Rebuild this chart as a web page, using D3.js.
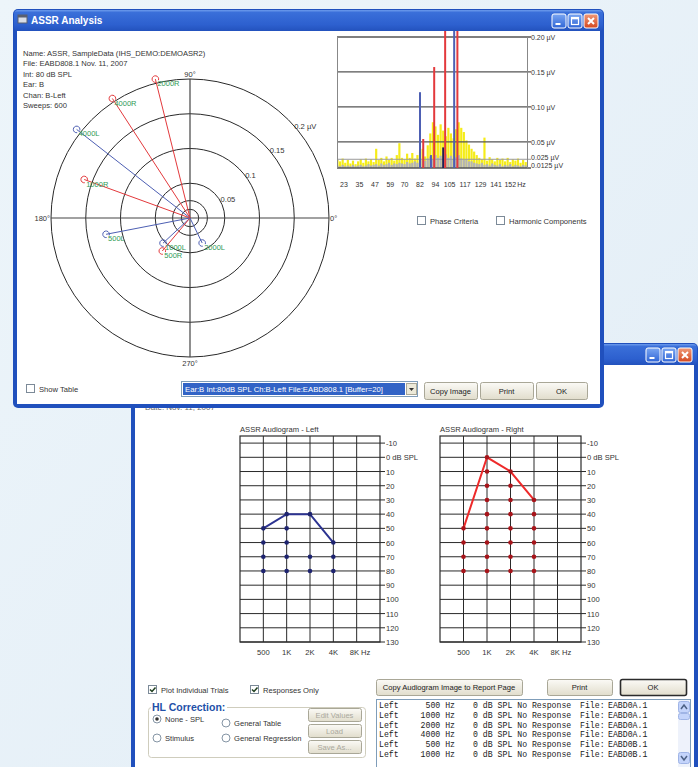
<!DOCTYPE html>
<html>
<head>
<meta charset="utf-8">
<script src="https://cdn.jsdelivr.net/npm/d3@7"></script>
<style>
  body { margin: 0; background: #e8f1f8; }
  svg text { font-family: "Liberation Sans", Arial, sans-serif; }
</style>
</head>
<body>
<div id="chart"></div>
<script>
'use strict';

// ---- ASSR Analysis window: header info ----
const infoLines = ['Name: ASSR, SampleData (IHS_DEMO:DEMOASR2)', 'File: EABD808.1 Nov. 11, 2007',
    'Int: 80 dB SPL', 'Ear: B', 'Chan: B-Left', 'Sweeps: 600'];

// ---- polar plot (amplitude in uV, phase in degrees) ----
const ringValues = [0.0125, 0.025, 0.05, 0.1, 0.15, 0.2];
const ringLabels = ['', '', '0.05', '0.1', '0.15', '0.2 \u00b5V'];
const vecLabels = ['2000R', '4000R', '4000L', '1000R', '500L', '1000L', '500R', '2000L'];
const vecAmp = [0.206, 0.205, 0.207, 0.162, 0.123, 0.053, 0.062, 0.040];
const vecPhase = [104, 123, 142, 160, 191, 223, 230, 296];
const vecEar = ['R', 'R', 'L', 'R', 'L', 'L', 'R', 'L'];

// ---- spectrum ----
const specFreqs = [18, 20, 22, 24, 26, 28, 30, 32, 34, 36,
    38, 40, 42, 44, 46, 48, 50, 52, 54, 56,
    58, 60, 62, 64, 66, 68, 70, 72, 74, 76,
    78, 80, 82, 84, 86, 88, 90, 92, 94, 96,
    98, 100, 102, 104, 106, 108, 110, 112, 114, 116,
    118, 120, 122, 124, 126, 128, 130, 132, 134, 136,
    138, 140, 142, 144, 146, 148, 150, 152, 154, 156,
    158, 160, 162, 164];
const specSignal = [0.024, 0.022, 0.026, 0.020, 0.024, 0.019, 0.023, 0.018, 0.022, 0.025,
    0.020, 0.026, 0.022, 0.025, 0.021, 0.040, 0.024, 0.027, 0.022, 0.029,
    0.024, 0.027, 0.023, 0.031, 0.048, 0.027, 0.025, 0.033, 0.027, 0.034,
    0.026, 0.031, 0.036, 0.040, 0.029, 0.045, 0.062, 0.078, 0.072, 0.060,
    0.075, 0.066, 0.058, 0.070, 0.062, 0.055, 0.068, 0.078, 0.070, 0.064,
    0.052, 0.046, 0.040, 0.036, 0.031, 0.027, 0.025, 0.056, 0.023, 0.028,
    0.025, 0.022, 0.027, 0.024, 0.026, 0.022, 0.027, 0.021, 0.025, 0.023,
    0.026, 0.020, 0.024, 0.021];
const specNoise = [0.016, 0.015, 0.017, 0.015, 0.016, 0.015, 0.017, 0.015, 0.016, 0.017,
    0.015, 0.016, 0.018, 0.016, 0.017, 0.018, 0.016, 0.019, 0.017, 0.018,
    0.020, 0.017, 0.019, 0.018, 0.020, 0.019, 0.018, 0.021, 0.019, 0.020,
    0.022, 0.020, 0.022, 0.024, 0.023, 0.026, 0.029, 0.025, 0.031, 0.027,
    0.030, 0.026, 0.032, 0.027, 0.030, 0.025, 0.028, 0.031, 0.026, 0.024,
    0.025, 0.022, 0.022, 0.020, 0.019, 0.018, 0.020, 0.017, 0.018, 0.016,
    0.019, 0.017, 0.016, 0.018, 0.015, 0.017, 0.016, 0.018, 0.015, 0.017,
    0.016, 0.015, 0.017, 0.016];
const peakFreqs = [82, 84.5, 90.5, 93, 100, 101.5, 108.5, 111];
const peakValues = [0.121, 0.054, 0.031, 0.157, 0.042, 0.30, 0.30, 0.30];
const peakEar = ['L', 'R', 'L', 'R', 'N', 'R', 'L', 'R'];
const specTicks = [0.2, 0.15, 0.1, 0.05, 0.025, 0.0125];
const specTickLabels = ['0.20 \u00b5V', '0.15 \u00b5V', '0.10 \u00b5V', '0.05 \u00b5V', '0.025 \u00b5V', '0.0125 \u00b5V'];
const specFreqTicks = [23, 35, 47, 59, 70, 82, 94, 105, 117, 129, 141, 152];

// ---- audiograms ----
const audioFreqs = [500, 1000, 2000, 4000];
const audioTickFreqs = [500, 1000, 2000, 4000, 8000];
const audioTickLabels = ['500', '1K', '2K', '4K', '8K Hz'];
const dbTicks = [-10, 0, 10, 20, 30, 40, 50, 60, 70, 80, 90, 100, 110, 120, 130];
const leftThreshold = [50, 40, 40, 60];
const rightThreshold = [50, 0, 10, 30];
const leftTrials = [[50, 60, 70, 80], [40, 50, 60, 70, 80], [40, 70, 80], [60, 70, 80]];
const rightTrials = [[50, 60, 70, 80], [0, 10, 20, 30, 40, 50, 60, 70, 80],
    [10, 20, 30, 40, 50, 60, 70, 80], [30, 40, 50, 60, 70, 80]];

// ---- results list ----
const resultEar = ['Left', 'Left', 'Left', 'Left', 'Left', 'Left'];
const resultFreq = [500, 1000, 2000, 4000, 500, 1000];
const resultFile = ['EABD0A.1', 'EABD0A.1', 'EABD0A.1', 'EABD0A.1', 'EABD0B.1', 'EABD0B.1'];

const W = 698, H = 767;
const FS = 7.6;   // small dialog font
const earColor = {R: '#e3393c', L: '#4d5fb3', N: '#1c2156'};

const svg = d3.select('#chart').append('svg')
    .attr('width', W).attr('height', H);
const defs = svg.append('defs');

function gradient(id, stops, vertical) {
    const g = defs.append('linearGradient').attr('id', id)
        .attr('x1', 0).attr('y1', 0).attr('x2', vertical ? 0 : 1).attr('y2', 1);
    stops.forEach(s => g.append('stop').attr('offset', s[0]).attr('stop-color', s[1]));
}
gradient('bg', [['0%', '#edf5fa'], ['100%', '#e2edf6']], false);
gradient('titlebar', [['0%', '#6d9cec'], ['12%', '#3a6fd9'], ['70%', '#2d60cf'], ['100%', '#2352bd']], true);
gradient('btn', [['0%', '#fbfaf6'], ['100%', '#e1ddcc']], true);
gradient('tbtn', [['0%', '#7aa6f2'], ['100%', '#2f65d6']], true);
gradient('tclose', [['0%', '#f09a78'], ['100%', '#d4471f']], true);

svg.append('rect').attr('width', W).attr('height', H).attr('fill', 'url(#bg)');

function drawWindow(x, y, w, h, clipId) {
    const g = svg.append('g');
    g.append('rect').attr('x', x).attr('y', y).attr('width', w).attr('height', h)
        .attr('rx', 5).attr('fill', '#2050bd');
    g.append('rect').attr('x', x + 1).attr('y', y + 1).attr('width', w - 2).attr('height', 21)
        .attr('rx', 4).attr('fill', 'url(#titlebar)');
    g.append('rect').attr('x', x + 4).attr('y', y + 22).attr('width', w - 8).attr('height', h - 26)
        .attr('fill', '#ffffff');
    defs.append('clipPath').attr('id', clipId).append('rect')
        .attr('x', x + 4).attr('y', y + 22).attr('width', w - 8).attr('height', h - 26);
    // title buttons
    const bx = x + w - 52;
    [0, 1, 2].forEach(i => {
        const b = g.append('g').attr('transform', `translate(${bx + i * 16},${y + 5})`);
        b.append('rect').attr('width', 14).attr('height', 14).attr('rx', 2)
            .attr('fill', i === 2 ? 'url(#tclose)' : 'url(#tbtn)').attr('stroke', '#ffffff').attr('stroke-width', 1);
        if (i === 0) {
            b.append('rect').attr('x', 3.5).attr('y', 9).attr('width', 5).attr('height', 2).attr('fill', '#fff');
        } else if (i === 1) {
            b.append('rect').attr('x', 3.5).attr('y', 3.5).attr('width', 7).attr('height', 7)
                .attr('fill', 'none').attr('stroke', '#fff').attr('stroke-width', 1.2);
            b.append('rect').attr('x', 3.5).attr('y', 3.5).attr('width', 7).attr('height', 1.8).attr('fill', '#fff');
        } else {
            b.append('path').attr('d', 'M4,4L10,10M10,4L4,10').attr('stroke', '#fff').attr('stroke-width', 2);
        }
    });
    return g.append('g').attr('clip-path', `url(#${clipId})`);
}

function button(g, x, y, w, h, label, opts) {
    opts = opts || {};
    g.append('rect').attr('x', x + 0.5).attr('y', y + 0.5).attr('width', w).attr('height', h)
        .attr('rx', 2).attr('fill', 'url(#btn)')
        .attr('stroke', opts.def ? '#2b2b2b' : '#a9a797').attr('stroke-width', opts.def ? 1.6 : 1);
    g.append('text').attr('x', x + w / 2).attr('y', y + h / 2 + 3.2)
        .attr('text-anchor', 'middle').attr('font-size', FS)
        .attr('fill', opts.disabled ? '#aaa89c' : '#222').text(label);
}

function checkbox(g, x, y, checked, label) {
    g.append('rect').attr('x', x + 0.5).attr('y', y + 0.5).attr('width', 8).attr('height', 8)
        .attr('fill', '#fff').attr('stroke', '#7c8a98');
    if (checked) {
        g.append('path').attr('d', `M${x + 2},${y + 4.5}L${x + 4},${y + 6.5}L${x + 7.5},${y + 2.5}`)
            .attr('fill', 'none').attr('stroke', '#1f3f1f').attr('stroke-width', 1.5);
    }
    g.append('text').attr('x', x + 13).attr('y', y + 7.5).attr('font-size', FS)
        .attr('fill', '#333').text(label);
}

function radio(g, x, y, selected, label) {
    g.append('circle').attr('cx', x).attr('cy', y).attr('r', 4)
        .attr('fill', '#fff').attr('stroke', '#8595a5');
    if (selected) g.append('circle').attr('cx', x).attr('cy', y).attr('r', 1.8).attr('fill', '#333');
    g.append('text').attr('x', x + 8).attr('y', y + 3).attr('font-size', FS)
        .attr('fill', '#333').text(label);
}

// =================== second window (audiogram), drawn underneath ===================
const w2 = drawWindow(131, 343, 567, 440, 'clip2');

w2.append('text').attr('x', 145).attr('y', 410).attr('font-size', 8).attr('fill', '#666')
    .text('Date: Nov. 11, 2007');

function drawAudiogram(g, x0, x1, title, threshold, trials, lineColor, dotColor) {
    const x = d3.scaleLog().base(2).domain([250, 16000]).range([x0, x1]);
    const y = d3.scaleLinear().domain([-15, 130]).range([436, 642]);
    g.append('text').attr('x', x0).attr('y', 432).attr('font-size', FS).attr('fill', '#333').text(title);
    g.append('g').selectAll('line').data(dbTicks).join('line')
        .attr('x1', x0).attr('x2', x1 + 5)
        .attr('y1', d => y(d)).attr('y2', d => y(d))
        .attr('stroke', '#2a2a2a').attr('stroke-width', 1);
    g.append('g').selectAll('line').data(audioTickFreqs).join('line')
        .attr('x1', d => x(d)).attr('x2', d => x(d))
        .attr('y1', y(-15)).attr('y2', y(130))
        .attr('stroke', '#2a2a2a').attr('stroke-width', 1);
    g.append('rect').attr('x', x0).attr('y', y(-15)).attr('width', x1 - x0).attr('height', y(130) - y(-15))
        .attr('fill', 'none').attr('stroke', '#2a2a2a').attr('stroke-width', 1.2);
    g.append('g').selectAll('text').data(dbTicks).join('text')
        .attr('x', x1 + 6).attr('y', d => y(d) + 3).attr('font-size', FS).attr('fill', '#333')
        .text(d => d === 0 ? '0 dB SPL' : d);
    g.append('g').selectAll('text').data(audioTickFreqs).join('text')
        .attr('x', d => x(d)).attr('y', 655).attr('font-size', FS).attr('fill', '#333')
        .attr('text-anchor', (d, i) => i === audioTickFreqs.length - 1 ? 'start' : 'middle')
        .attr('dx', (d, i) => i === audioTickFreqs.length - 1 ? -7 : 0)
        .text((d, i) => audioTickLabels[i]);
    g.append('path')
        .datum(audioFreqs.map((f, i) => [f, threshold[i]]))
        .attr('d', d3.line().x(d => x(d[0])).y(d => y(d[1])))
        .attr('fill', 'none').attr('stroke', lineColor).attr('stroke-width', 2);
    const pts = [];
    audioFreqs.forEach((f, i) => trials[i].forEach(v => pts.push([f, v])));
    g.append('g').selectAll('circle').data(pts).join('circle')
        .attr('cx', d => x(d[0])).attr('cy', d => y(d[1])).attr('r', 2.3).attr('fill', dotColor);
}
drawAudiogram(w2, 240, 380, 'ASSR Audiogram - Left', leftThreshold, leftTrials, '#2c3391', '#1e2470');
drawAudiogram(w2, 440, 581, 'ASSR Audiogram - Right', rightThreshold, rightTrials, '#ee2a2a', '#a8141a');

checkbox(w2, 148, 685, true, 'Plot Individual Trials');
checkbox(w2, 250, 685, true, 'Responses Only');

// HL correction group
w2.append('rect').attr('x', 148.5).attr('y', 707.5).attr('width', 217).attr('height', 50)
    .attr('rx', 3).attr('fill', 'none').attr('stroke', '#cfcdbd');
w2.append('rect').attr('x', 151).attr('y', 700).attr('width', 76).attr('height', 12).attr('fill', '#fff');
w2.append('text').attr('x', 152).attr('y', 711).attr('font-size', 10.5).attr('font-weight', 'bold')
    .attr('fill', '#2350a8').text('HL Correction:');
radio(w2, 157, 719, true, 'None - SPL');
radio(w2, 226, 723, false, 'General Table');
radio(w2, 157, 738, false, 'Stimulus');
radio(w2, 226, 738, false, 'General Regression');
button(w2, 308, 708, 53, 13, 'Edit Values', {disabled: true});
button(w2, 308, 724, 53, 13, 'Load', {disabled: true});
button(w2, 308, 740, 53, 13, 'Save As...', {disabled: true});

button(w2, 376, 679, 146, 16, 'Copy Audiogram Image to Report Page');
button(w2, 547, 679, 65, 16, 'Print');
button(w2, 620, 679, 66, 16, 'OK', {def: true});

// results list box
w2.append('rect').attr('x', 376.5).attr('y', 699.5).attr('width', 314).attr('height', 70)
    .attr('fill', '#fff').attr('stroke', '#7f9db9');
w2.append('rect').attr('x', 678).attr('y', 700).attr('width', 12).attr('height', 69).attr('fill', '#eef2fb');
[[701, 'M681,709L684,705L687,709'], [752, 'M681,756L684,760L687,756']].forEach(a => {
    w2.append('rect').attr('x', 678.5).attr('y', a[0] + 0.5).attr('width', 11).attr('height', 11)
        .attr('rx', 2).attr('fill', '#c4d4fb').attr('stroke', '#9fb4e6');
    w2.append('path').attr('d', a[1]).attr('fill', 'none').attr('stroke', '#4d6185').attr('stroke-width', 1.5);
});
w2.append('rect').attr('x', 678.5).attr('y', 713.5).attr('width', 11).attr('height', 6)
    .attr('rx', 2).attr('fill', '#c4d4fb').attr('stroke', '#9fb4e6');
const rows = w2.append('g').attr('font-size', 8.2).attr('fill', '#222');
resultEar.forEach((ear, i) => {
    const yy = 708 + i * 9.8;
    const t = (x, s, anchor) => rows.append('text').attr('x', x).attr('y', yy)
        .attr('text-anchor', anchor || 'start')
        .style('font-family', '"Liberation Mono", "DejaVu Sans Mono", monospace').text(s);
    t(379, ear);
    t(455, resultFreq[i] + ' Hz', 'end');
    t(473, '0 dB SPL No Response');
    t(580, 'File:');
    t(608, resultFile[i]);
});

// =================== first window (ASSR Analysis), on top ===================
const w1 = drawWindow(13, 9, 591, 399, 'clip1');
svg.append('rect').attr('x', 18).attr('y', 15).attr('width', 9).attr('height', 8)
    .attr('fill', '#d9dde6').attr('stroke', '#5a6070');
svg.append('rect').attr('x', 18).attr('y', 15).attr('width', 9).attr('height', 2.5).attr('fill', '#5a6070');
svg.append('text').attr('x', 31).attr('y', 24).attr('font-size', 10).attr('font-weight', 'bold')
    .attr('fill', '#ffffff').text('ASSR Analysis');

w1.append('g').selectAll('text').data(infoLines).join('text')
    .attr('x', 23).attr('y', (d, i) => 56 + i * 10.4)
    .attr('font-size', FS).attr('fill', '#333').text(d => d);

// ---- polar plot ----
const cx = 190, cy = 218;
const r = d3.scaleLinear().domain([0, 0.2]).range([0, 139]);
const polar = w1.append('g').attr('transform', `translate(${cx},${cy})`);
polar.append('g').selectAll('circle').data(ringValues).join('circle')
    .attr('r', d => r(d)).attr('fill', 'none').attr('stroke', '#2a2a2a').attr('stroke-width', 1);
const rMax = r(0.2);
polar.append('line').attr('x1', -rMax).attr('x2', rMax).attr('stroke', '#444').attr('stroke-width', 1.2);
polar.append('line').attr('y1', -rMax).attr('y2', rMax).attr('stroke', '#444').attr('stroke-width', 1.2);
polar.append('g').selectAll('text').data(ringValues).join('text')
    .attr('x', d => r(d) * Math.SQRT1_2 + 6).attr('y', d => -r(d) * Math.SQRT1_2 + 9)
    .attr('font-size', FS).attr('fill', '#333').text((d, i) => ringLabels[i]);
const angleLabels = polar.append('g').attr('font-size', 7.5).attr('fill', '#333');
angleLabels.append('text').attr('x', 0).attr('y', -rMax - 2).attr('text-anchor', 'middle').text('90\u00b0');
angleLabels.append('text').attr('x', rMax + 1).attr('y', 3).text('0\u00b0');
angleLabels.append('text').attr('x', -rMax - 1).attr('y', 3).attr('text-anchor', 'end').text('180\u00b0');
angleLabels.append('text').attr('x', 0).attr('y', rMax + 9).attr('text-anchor', 'middle').text('270\u00b0');

const vecs = vecLabels.map((lab, i) => {
    const a = vecPhase[i] * Math.PI / 180;
    return {label: lab, ear: vecEar[i], x: r(vecAmp[i]) * Math.cos(a), y: -r(vecAmp[i]) * Math.sin(a)};
});
polar.append('g').selectAll('line').data(vecs).join('line')
    .attr('x2', d => d.x).attr('y2', d => d.y)
    .attr('stroke', d => earColor[d.ear]).attr('stroke-width', 1);
polar.append('g').selectAll('path').data(vecs).join('path')
    .attr('d', d => {
        const p = d3.path(), rr = 3.3, a0 = 80 * Math.PI / 180, a1 = 380 * Math.PI / 180;
        p.moveTo(d.x + rr * Math.cos(a0), d.y + rr * Math.sin(a0));
        p.arc(d.x, d.y, rr, a0, a1);
        return p.toString();
    })
    .attr('fill', 'none').attr('stroke', d => earColor[d.ear]).attr('stroke-width', 1);
polar.append('g').selectAll('text').data(vecs).join('text')
    .attr('x', d => d.x + 2).attr('y', d => d.y + 7)
    .attr('font-size', 7.5).attr('fill', '#2f9a55').text(d => d.label);

// ---- spectrum ----
const sx = d3.scaleLinear().domain([17.6, 165]).range([337, 527]);
const sy = d3.scaleLinear().domain([0.0125, 0.2]).range([168, 37]);
defs.append('clipPath').attr('id', 'specclip').append('rect')
    .attr('x', 337).attr('y', 37).attr('width', 190).attr('height', 131);
const spec = w1.append('g');
const bars = spec.append('g').attr('clip-path', 'url(#specclip)');
const bw = sx(2) - sx(0) - 0.4;
bars.append('g').selectAll('rect').data(specFreqs).join('rect')
    .attr('x', d => sx(d) - bw / 2).attr('width', bw)
    .attr('y', (d, i) => sy(specSignal[i])).attr('height', (d, i) => sy(0.0125) - sy(specSignal[i]))
    .attr('fill', '#f5ec18');
bars.append('g').selectAll('rect').data(specFreqs).join('rect')
    .attr('x', d => sx(d) - bw / 2).attr('width', bw)
    .attr('y', (d, i) => sy(specNoise[i])).attr('height', (d, i) => sy(0.0125) - sy(specNoise[i]))
    .attr('fill', '#b4b4b4');
spec.append('g').selectAll('line').data(specTicks).join('line')
    .attr('x1', 337).attr('x2', 531).attr('y1', d => sy(d)).attr('y2', d => sy(d))
    .attr('stroke', d => d === 0.025 ? '#9a9a9a' : '#555').attr('stroke-width', d => d === 0.025 ? 1 : 1.3);
spec.append('line').attr('x1', 337.5).attr('x2', 337.5).attr('y1', 37).attr('y2', 168)
    .attr('stroke', '#888');
spec.append('line').attr('x1', 527.5).attr('x2', 527.5).attr('y1', 37).attr('y2', 168)
    .attr('stroke', '#888');
spec.append('g').selectAll('line.peak').data(peakFreqs).join('line')
    .attr('x1', d => sx(d)).attr('x2', d => sx(d))
    .attr('y1', sy(0.0125)).attr('y2', (d, i) => sy(peakValues[i]))
    .attr('stroke', (d, i) => earColor[peakEar[i]]).attr('stroke-width', 2);
spec.append('g').selectAll('text').data(specTicks).join('text')
    .attr('x', 531).attr('y', d => sy(d) + (d === 0.0125 ? 0 : d === 0.025 ? 1 : 3))
    .attr('font-size', 7).attr('fill', '#333').text((d, i) => specTickLabels[i]);
spec.append('g').selectAll('text').data(specFreqTicks).join('text')
    .attr('x', d => sx(d)).attr('y', 187).attr('text-anchor', 'middle')
    .attr('font-size', 7).attr('fill', '#333').text(d => d);
spec.append('text').attr('x', sx(152) + 7).attr('y', 187).attr('font-size', 7).attr('fill', '#333').text('Hz');

checkbox(w1, 417, 216, false, 'Phase Criteria');
checkbox(w1, 496, 216, false, 'Harmonic Components');
checkbox(w1, 26, 384, false, 'Show Table');

// dropdown
w1.append('rect').attr('x', 181.5).attr('y', 381.5).attr('width', 236).attr('height', 15)
    .attr('fill', '#fff').attr('stroke', '#7f9db9');
w1.append('rect').attr('x', 183).attr('y', 383).attr('width', 222).attr('height', 12).attr('fill', '#3163c6');
w1.append('text').attr('x', 185).attr('y', 392).attr('font-size', 7.5).attr('fill', '#fff')
    .attr('textLength', 198).attr('lengthAdjust', 'spacingAndGlyphs')
    .text('Ear:B Int:80dB SPL Ch:B-Left File:EABD808.1 [Buffer=20]');
w1.append('rect').attr('x', 406.5).attr('y', 383.5).attr('width', 10).attr('height', 11)
    .attr('fill', '#ece9d8').attr('stroke', '#a9a797');
w1.append('path').attr('d', 'M409,388L414,388L411.5,391Z').attr('fill', '#333');

button(w1, 424, 382, 53, 17, 'Copy Image');
button(w1, 480, 382, 53, 17, 'Print');
button(w1, 536, 382, 51, 17, 'OK');
</script>
</body>
</html>
